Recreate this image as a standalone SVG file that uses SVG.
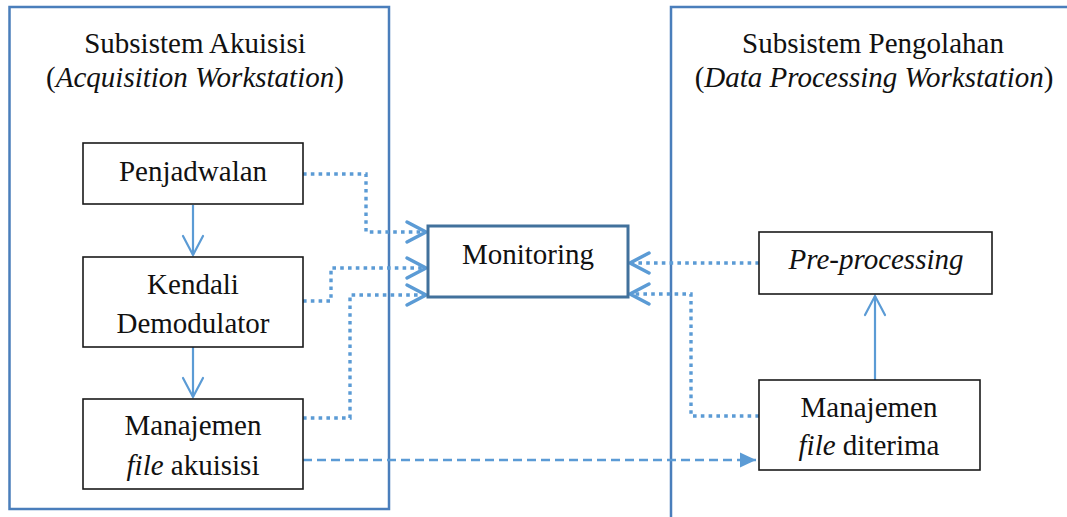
<svg xmlns="http://www.w3.org/2000/svg" width="1067" height="517" viewBox="0 0 1067 517">
<style>
  .container { fill: none; stroke: #4a7ebb; stroke-width: 2.5; }
  .box { fill: #ffffff; stroke: #1a1a1a; stroke-width: 1.6; }
  .mon { fill: #ffffff; stroke: #41719c; stroke-width: 3; }
  .t { font-family: "Liberation Serif", "Times New Roman", serif; font-size: 29px; fill: #111; text-anchor: middle; }
  .it { font-style: italic; }
  .solid { fill: none; stroke: #5b9bd5; stroke-width: 2.2; }
  .dot { fill: none; stroke: #5b9bd5; stroke-width: 3.4; stroke-dasharray: 3.6 4.2; }
  .dash { fill: none; stroke: #5b9bd5; stroke-width: 2.6; stroke-dasharray: 9 5; }
</style>
<defs>
  <marker id="open" markerUnits="userSpaceOnUse" viewBox="-24 -14 28 28" refX="0" refY="0" markerWidth="28" markerHeight="28" orient="auto">
    <path d="M-19,-10 L0,0 L-19,10" fill="none" stroke="#5b9bd5" stroke-width="3.5" stroke-linecap="round" stroke-linejoin="miter"/>
  </marker>
  <marker id="openthin" markerUnits="userSpaceOnUse" viewBox="-24 -14 28 28" refX="0" refY="0" markerWidth="28" markerHeight="28" orient="auto">
    <path d="M-19,-10 L0,0 L-19,10" fill="none" stroke="#5b9bd5" stroke-width="2.2" stroke-linecap="round"/>
  </marker>
  <marker id="tri" markerUnits="userSpaceOnUse" viewBox="-18 -9 20 18" refX="0" refY="0" markerWidth="20" markerHeight="18" orient="auto">
    <path d="M-16,-7.5 L0,0 L-16,7.5 Z" fill="#5b9bd5"/>
  </marker>
</defs>

<g id="subsistem-akuisisi">
  <rect class="container" x="9.5" y="7" width="379.5" height="502"/>
  <text class="t" x="195" y="53">Subsistem Akuisisi</text>
  <text class="t" x="195" y="87">(<tspan class="it">Acquisition Workstation</tspan>)</text>
</g>

<g id="subsistem-pengolahan">
  <rect class="container" x="671" y="7" width="500" height="600"/>
  <text class="t" x="873" y="53">Subsistem Pengolahan</text>
  <text class="t" x="874" y="87">(<tspan class="it">Data Processing Workstation</tspan>)</text>
</g>

<g id="connectors">
  <path class="solid" d="M193,205 L193,255" marker-end="url(#openthin)"/>
  <path class="solid" d="M193,347 L193,397" marker-end="url(#openthin)"/>
  <path class="solid" d="M875,380 L875,296" marker-end="url(#openthin)"/>
  <path class="dot" d="M303,174 L366,174 L366,232 L426,232" marker-end="url(#open)"/>
  <path class="dot" d="M303,301 L331,301 L331,268 L426,268" marker-end="url(#open)"/>
  <path class="dot" d="M303,418 L350,418 L350,295 L426,295" marker-end="url(#open)"/>
  <path class="dot" d="M759,263 L630,263" marker-end="url(#open)"/>
  <path class="dot" d="M759,416 L691,416 L691,294 L630,294" marker-end="url(#open)"/>
  <path class="dash" d="M303,460 L756,460" marker-end="url(#tri)"/>
</g>

<g id="penjadwalan">
  <rect class="box" x="83" y="143" width="220" height="61"/>
  <text class="t" x="193" y="181">Penjadwalan</text>
</g>

<g id="kendali-demodulator">
  <rect class="box" x="83" y="257" width="220" height="90"/>
  <text class="t" x="193" y="294">Kendali</text>
  <text class="t" x="193" y="333">Demodulator</text>
</g>

<g id="manajemen-file-akuisisi">
  <rect class="box" x="83" y="399" width="220" height="90"/>
  <text class="t" x="193" y="435">Manajemen</text>
  <text class="t" x="193" y="475"><tspan class="it">file</tspan> akuisisi</text>
</g>

<g id="monitoring">
  <rect class="mon" x="428" y="226" width="200" height="71"/>
  <text class="t" x="528" y="264">Monitoring</text>
</g>

<g id="pre-processing">
  <rect class="box" x="759" y="232" width="233" height="62"/>
  <text class="t it" x="876" y="269">Pre-processing</text>
</g>

<g id="manajemen-file-diterima">
  <rect class="box" x="759" y="380" width="221" height="90"/>
  <text class="t" x="869" y="417">Manajemen</text>
  <text class="t" x="869" y="455"><tspan class="it">file</tspan> diterima</text>
</g>
</svg>
